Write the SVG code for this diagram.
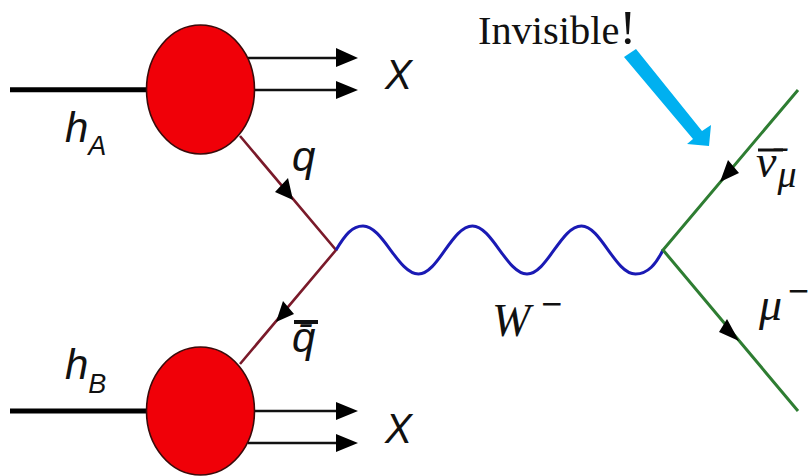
<svg xmlns="http://www.w3.org/2000/svg" width="810" height="476" viewBox="0 0 810 476">
<style>
.blob{fill:#f00008;stroke:#3a0a0a;stroke-width:1.6}
.beam{fill:none;stroke:#000;stroke-width:5}
.out{fill:none;stroke:#111;stroke-width:2.6}
.quark{fill:none;stroke:#7a1a2a;stroke-width:2.6}
.lep{fill:none;stroke:#2e7d32;stroke-width:3}
.head{fill:#000}
.bar{stroke:#111;stroke-width:3}
.lab{font-family:"Liberation Sans",Arial,sans-serif;font-style:italic;fill:#111;font-size:42px}
.math{font-family:"Liberation Serif","Times New Roman",serif;font-style:italic;fill:#111;font-size:46px}
.sup{font-family:"Liberation Sans",Arial,sans-serif;font-style:normal;font-size:36px}
.sub{font-size:27px}
</style>
<rect width="810" height="476" fill="#fff"/>
<g id="connectors">
<line class="beam" x1="10" y1="89.7" x2="147" y2="89.7"/>
<line class="beam" x1="10" y1="411" x2="147" y2="411"/>
<path class="out" d="M248 58H338M254 90H338M254 411H338M248 443H338"/>
<path class="head" d="M336 48L358 58L336 67ZM336 81L358 90L336 99ZM336 402L358 411L336 420ZM336 434L358 443L336 452Z"/>
<path class="quark" d="M240 136L336 250L240 364"/>
<path class="head" d="M288 178L275 192L293 200ZM283 301L294 314L276 322Z"/>
<path fill="none" stroke="#1a1ab4" stroke-width="3" d="M336 250C345 235 352 226 363 226C383 226 398 274 418.500 274C438 274 452 226 472.500 226C492 226 507 274 527 274C547 274 561 226 581.500 226C601 226 615 274 635.500 274C648 274 656 264 663 250"/>
<path class="lep" d="M798 90L663 250L798 411"/>
<path class="head" d="M728 160L739 173L720 182ZM727 319L719 332L739 341Z"/>
<path fill="#00b0f0" d="M624 57L636 49L702 131L711 125L709 146L687 144L693 139Z"/>
</g>
<g id="hadron-a"><ellipse class="blob" cx="200.500" cy="89.500" rx="54" ry="64.500"/>
<text class="lab" x="65" y="142">h<tspan class="sub" dy="13">A</tspan></text></g>
<g id="hadron-b"><ellipse class="blob" cx="200.500" cy="411" rx="54" ry="64"/>
<text class="lab" x="65" y="379">h<tspan class="sub" dy="14">B</tspan></text></g>
<g id="x-a"><text class="lab" x="385" y="89" font-size="47" textLength="27" lengthAdjust="spacingAndGlyphs">X</text></g>
<g id="x-b"><text class="lab" x="385" y="443" font-size="47" textLength="27" lengthAdjust="spacingAndGlyphs">X</text></g>
<g id="quark"><text class="lab" x="292" y="171">q</text></g>
<g id="antiquark"><text class="lab" x="292" y="352">q̄</text><line class="bar" x1="294" y1="322" x2="318" y2="322" style="stroke-width:4"/></g>
<g id="w-boson"><text class="math" x="492" y="336" font-size="52">W<tspan class="sup" dy="-20" dx="11">−</tspan></text></g>
<g id="antineutrino"><text class="math" x="756" y="177">ν̄<tspan font-size="38" dy="10" dx="1">μ</tspan></text><line class="bar" x1="758" y1="150" x2="783" y2="150"/></g>
<g id="muon"><text class="math" x="759" y="320">μ<tspan class="sup" dy="-17" dx="6">−</tspan></text></g>
<g id="invisible"><text x="478" y="44" font-family="'Liberation Serif',serif" font-size="39" fill="#111" textLength="158" lengthAdjust="spacingAndGlyphs">Invisible<tspan font-size="48">!</tspan></text></g>
</svg>
